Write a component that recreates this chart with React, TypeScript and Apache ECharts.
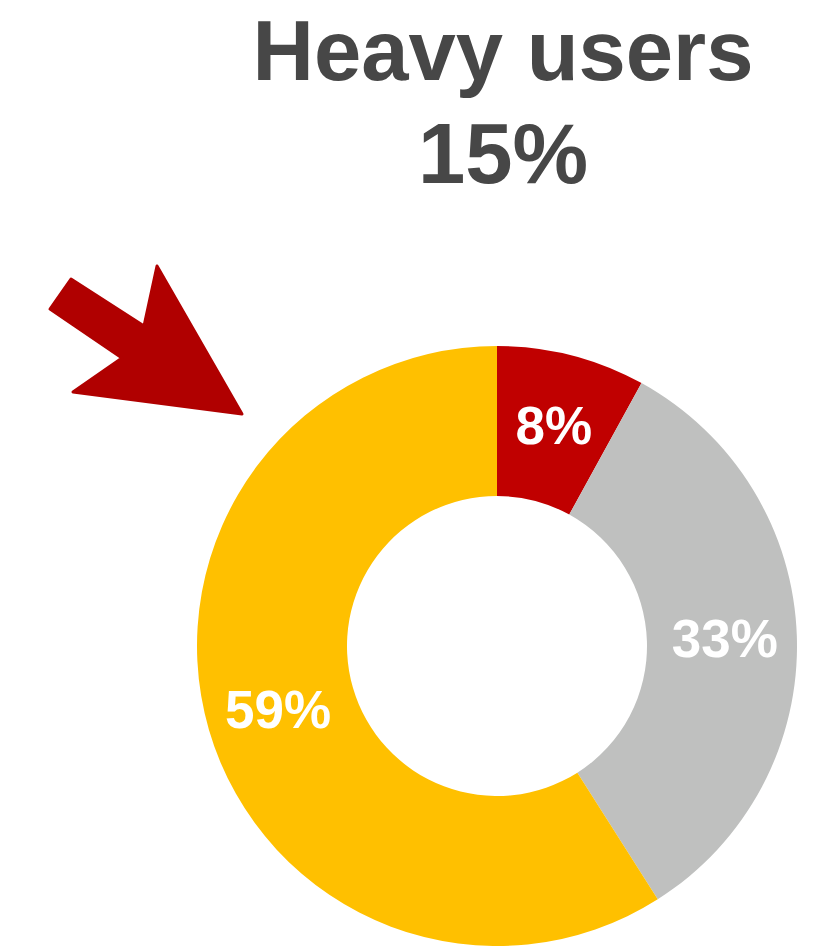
import React, { useEffect, useRef } from "react";
import * as echarts from "echarts";

// Share of users by segment (percent)
const segments = ["Heavy", "Moderate", "Light"];
const shares = [8, 33, 59];
const segmentColors = ["#C00000", "#BFC0BF", "#FFC000"];

const titleLines = ["Heavy users", "15%"];

// Arrow outline pointing at the ring
const arrowPoints: number[][] = [
  [50, 309],
  [71, 279],
  [144, 326],
  [157, 266],
  [242, 414],
  [73, 392],
  [122, 358],
];

export default function App() {
  const ref = useRef<HTMLDivElement>(null);

  useEffect(() => {
    if (!ref.current) return;
    const chart = echarts.init(ref.current, undefined, { renderer: "svg" });
    const font = '"Liberation Sans", Arial, Helvetica, sans-serif';
    chart.setOption({
      animation: false,
      backgroundColor: "#ffffff",
      graphic: [
        ...titleLines.map((t, i) => ({
          type: "text",
          x: 503,
          y: 50 + i * 103,
          style: {
            text: t,
            fill: "#474747",
            font: `bold 85px ${font}`,
            textAlign: "center",
            textVerticalAlign: "middle",
          },
        })),
        {
          type: "polygon",
          shape: { points: arrowPoints },
          style: {
            fill: "#B00000",
            stroke: "#B00000",
            lineWidth: 3,
            lineJoin: "round",
          },
        },
      ],
      series: [
        {
          type: "pie",
          center: [497, 646],
          radius: [150, 300],
          startAngle: 90,
          clockwise: true,
          silent: true,
          label: {
            show: true,
            position: "inside",
            formatter: "{c}%",
            color: "#ffffff",
            fontSize: 53,
            fontWeight: "bold",
            fontFamily: font,
          },
          labelLine: { show: false },
          data: segments.map((name, i) => ({
            name,
            value: shares[i],
            itemStyle: { color: segmentColors[i] },
          })),
        },
      ],
    });
    return () => chart.dispose();
  }, []);

  return (
    <div
      ref={ref}
      style={{ position: "fixed", left: 0, top: 0, width: 815, height: 946 }}
    />
  );
}
